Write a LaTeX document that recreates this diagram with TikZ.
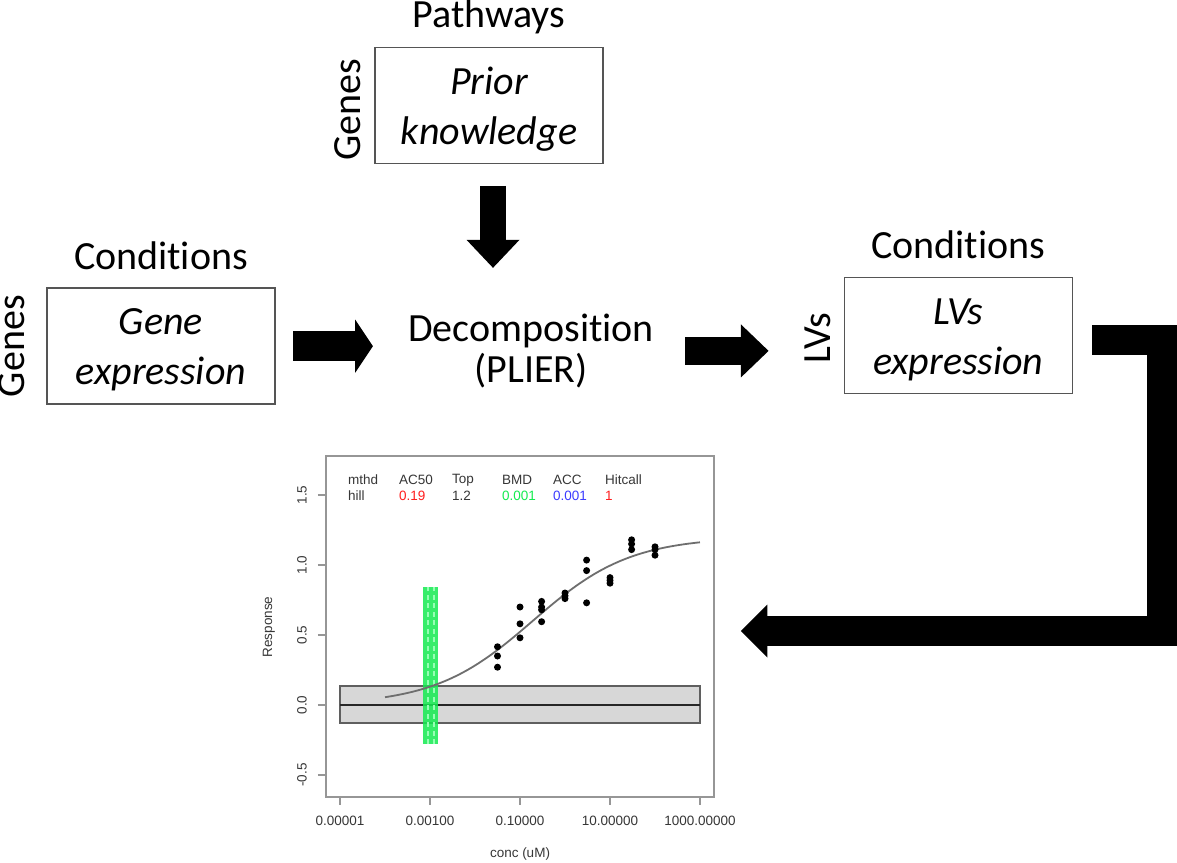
\documentclass[tikz,border=0pt]{standalone}
\usepackage{fontspec}
\setmainfont{Carlito}[Ligatures=NoCommon]
\newfontfamily\plotfont{Liberation Sans}
\usetikzlibrary{positioning,arrows.meta}
\definecolor{boxgray}{RGB}{85,85,85}
\definecolor{framegray}{RGB}{150,150,150}
\definecolor{bandgray}{RGB}{215,215,215}
\definecolor{bandedge}{RGB}{95,95,95}
\definecolor{curvegray}{RGB}{110,110,110}
\definecolor{bmdgreen}{RGB}{20,235,80}
\definecolor{lightgreen}{RGB}{150,255,180}
\definecolor{hitred}{RGB}{255,30,30}
\definecolor{accblue}{RGB}{60,60,255}
\definecolor{ticktext}{RGB}{55,55,55}
\newcommand{\bigfont}{\fontsize{40}{50}\selectfont}
\newcommand{\boxstrut}{\rule{0pt}{34pt}}
\newcommand{\plotsize}{\plotfont\fontsize{13.5}{16}\selectfont}
\tikzset{
  databox/.style={draw=boxgray, line width=1.5pt, minimum width=228pt, minimum height=116pt,
    inner sep=0pt, align=center, font=\bigfont\itshape},
  headlabel/.style={inner sep=0pt, font=\bigfont},
  sidelabel/.style={inner sep=0pt, font=\bigfont, rotate=90, anchor=south},
  fatarrow/.style={line width=29pt, -{Triangle[length=#1, width=53pt, line width=0pt]}},
  fatarrow/.default=27pt,
  plottext/.style={inner sep=0pt, font=\plotsize, text=ticktext},
  axisline/.style={draw=framegray, line width=1.5pt},
  obsdot/.style={circle, fill=black, inner sep=0pt, minimum size=7pt}
}
\begin{document}
\begin{tikzpicture}[x=1pt, y=-1pt]
    \useasboundingbox[fill=white] (0,0) rectangle (1177,862);

    % matrices
    \node[databox] (gexp) at (161,346.2) {\boxstrut Gene\\expression};
    \node[databox] (prior) at (489,105.5) {\boxstrut Prior\\knowledge};
    \node[databox] (lvexp) at (958.3,335.3) {\boxstrut LVs\\expression};
    \node[headlabel, align=center, font=\fontsize{40}{40.7}\selectfont] (decomp) at (531,350.9) {Decomposition\\(PLIER)};

    \node[headlabel, above=17pt of gexp] (gexpcond) {Conditions};
    \node[headlabel, above=12.5pt of prior] (pathways) {Pathways};
    \node[headlabel, above=18pt of lvexp] (lvcond) {Conditions};
    \node[sidelabel] (gexpgenes) at ([xshift=-21.7pt]gexp.west) {Genes};
    \node[sidelabel] (priorgenes) at ([shift={(-13.3,4.5)}]prior.west) {Genes};
    \node[sidelabel] (lvlvs) at ([shift={(-12.6,2.7)}]lvexp.west) {LVs};

    % dose-response plot
    \node[draw=framegray, line width=1.5pt, minimum width=388pt, minimum height=341pt] (frame) at (520,626.5) {};
    \begin{scope}[shift={(565,705)}, xscale=45, yscale=-140]
        \draw[draw=bandedge, fill=bandgray, line width=1.5pt] (-5,-0.13) rectangle (3,0.135);
        \draw[line width=2.5pt, black!85] (-5,0) -- (3,0);
        \fill[bmdgreen, opacity=0.85] (-3.149,-0.28) rectangle (-2.816,0.84);
        \draw[lightgreen, line width=2.2pt, dash pattern=on 5pt off 3.5pt] (-3.044,-0.28) -- (-3.044,0.84);
        \draw[lightgreen, line width=2.2pt, dash pattern=on 5pt off 3.5pt] (-2.91,-0.28) -- (-2.91,0.84);
        \draw[curvegray, line width=1.8pt, domain=-4:3, samples=80, smooth]
            plot (\x, {1.2/(1+10^((-0.72-\x)*0.4))});
        \foreach \u/\v [count=\k] in {-1.5/0.416, -1.5/0.35, -1.5/0.27,
            -1/0.70, -1/0.58, -1/0.48,
            -0.52/0.74, -0.52/0.70, -0.52/0.68, -0.52/0.595,
            0/0.80, 0/0.78, 0/0.76,
            0.48/1.035, 0.48/0.96, 0.48/0.73,
            1/0.91, 1/0.89, 1/0.87,
            1.48/1.18, 1.48/1.15, 1.48/1.11,
            2/1.13, 2/1.11, 2/1.07}
            \node[obsdot] (obs\k) at (\u,\v) {};
        \foreach \v/\t [count=\k] in {-0.5/-0.5, 0/0.0, 0.5/0.5, 1/1.0, 1.5/1.5} {
            \draw[axisline] (-5.489,\v) -- (-5.311,\v);
            \node[plottext, rotate=90] (ytick\k) at (-5.844,\v) {\t};
        }
        \foreach \u/\t [count=\k] in {-5/0.00001, -3/0.00100, -1/0.10000, 1/10.00000, 3/1000.00000} {
            \draw[axisline] (\u,-0.657) -- (\u,-0.714);
            \node[plottext] (xtick\k) at (\u,-0.829) {\t};
        }
        \node[plottext, rotate=90] (ylab) at (-6.578,0.557) {Response};
        \node[plottext] (xlab) at (-1,-1.064) {conc (uM)};
    \end{scope}

    % fit summary
    \node[plottext, anchor=west] (mthd) at (348,480) {mthd};
    \node[plottext, anchor=west] (mthdval) at (348,496) {hill};
    \node[plottext, anchor=west] (acfifty) at (399,480) {AC50};
    \node[plottext, anchor=west, text=hitred] (acfiftyval) at (399,496) {0.19};
    \node[plottext, anchor=west] (topname) at (452,480) {Top};
    \node[plottext, anchor=west] (topval) at (452,496) {1.2};
    \node[plottext, anchor=west] (bmd) at (502,480) {BMD};
    \node[plottext, anchor=west, text=bmdgreen] (bmdval) at (502,496) {0.001};
    \node[plottext, anchor=west] (acc) at (553,480) {ACC};
    \node[plottext, anchor=west, text=accblue] (accval) at (553,496) {0.001};
    \node[plottext, anchor=west] (hitcall) at (605,480) {Hitcall};
    \node[plottext, anchor=west, text=hitred] (hitcallval) at (605,496) {1};

    % flow
    \draw[fatarrow=17.7pt, line width=30pt, shorten <=17.7pt, shorten >=35pt] (gexp.east) -- (gexp.east -| decomp.west);
    \draw[fatarrow=28pt, line width=26pt] ([shift={(4,21.7)}]prior.south) -- ([shift={(-38,-46)}]decomp.north);
    \draw[fatarrow=27.6pt, line width=28.3pt, shorten <=31pt, shorten >=75pt] (decomp.east) -- (decomp.east -| lvexp.west);
    \draw[fatarrow=26.7pt, line width=30pt] ([shift={(19.4,4.2)}]lvexp.east) -- ++(70,0) |- ([shift={(26,4.5)}]frame.east);
\end{tikzpicture}
\end{document}
